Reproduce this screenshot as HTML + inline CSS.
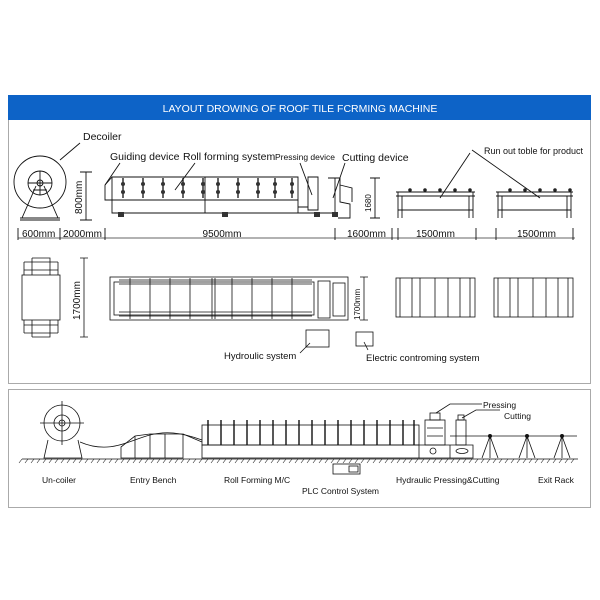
<!DOCTYPE html>
<html><head><meta charset="utf-8"><style>
html,body{margin:0;padding:0;background:#fff;}
svg{display:block;font-family:"Liberation Sans",sans-serif;}
</style></head><body>
<svg width="600" height="600" viewBox="0 0 600 600" xmlns="http://www.w3.org/2000/svg">
<rect width="600" height="600" fill="#fff"/>
<rect x="8.5" y="96.5" width="582" height="287" fill="none" stroke="#aaa" stroke-width="1"/>
<rect x="8.5" y="389.5" width="582" height="118" fill="none" stroke="#aaa" stroke-width="1"/>
<rect x="8" y="95" width="583" height="25" fill="#0d63c7"/>
<text x="300" y="112" fill="#fff" font-size="10.5" text-anchor="middle">LAYOUT DROWING OF ROOF TILE FCRMING MACHINE</text>

<g stroke="#111" fill="none" stroke-width="0.9">
<circle cx="40" cy="182" r="26"/>
<circle cx="40" cy="183" r="12"/>
<circle cx="40" cy="183" r="3"/>
<path d="M40 171V195M28 183H52"/>
<path d="M22 218L36 186M58 218L44 186M33 190H47"/>
<path d="M20 220H60M20 218H60"/>
<path d="M60 160L80 143"/>
<path d="M86 172V220M80 172H92M80 220H92"/>
<path d="M112 177H298V200H112Z"/>
<path d="M105 185L112 177M105 185V200H112"/>
<path d="M112 200V213H298V200M298 200V207H308"/>
<path d="M112 213H338"/>
<path d="M205 177V213"/>
<g stroke-width="1.3">
<path d="M123 178V198M143 178V198M163 178V198M183 178V198M203 178V198M218 178V198M238 178V198M258 178V198M275 178V198M292 178V198"/>
</g>
<g fill="#333" stroke="none">
<circle cx="123" cy="184" r="2"/><circle cx="123" cy="192" r="2"/>
<circle cx="143" cy="184" r="2"/><circle cx="143" cy="192" r="2"/>
<circle cx="163" cy="184" r="2"/><circle cx="163" cy="192" r="2"/>
<circle cx="183" cy="184" r="2"/><circle cx="183" cy="192" r="2"/>
<circle cx="203" cy="184" r="2"/><circle cx="203" cy="192" r="2"/>
<circle cx="218" cy="184" r="2"/><circle cx="218" cy="192" r="2"/>
<circle cx="238" cy="184" r="2"/><circle cx="238" cy="192" r="2"/>
<circle cx="258" cy="184" r="2"/><circle cx="258" cy="192" r="2"/>
<circle cx="275" cy="184" r="2"/><circle cx="275" cy="192" r="2"/>
<circle cx="292" cy="184" r="2"/><circle cx="292" cy="192" r="2"/>
<rect x="118" y="212" width="6" height="5"/><rect x="222" y="212" width="6" height="5"/><rect x="314" y="212" width="6" height="5"/><rect x="332" y="212" width="6" height="5"/>
</g>
<path d="M308 177H318V210H308Z"/>
<path d="M328 178H340V202L350 204V218H338"/>
<path d="M340 185L352 188V202"/>
<path d="M335 178V212"/>
<path d="M375 178V218M370 178H380M370 218H380"/>
<path d="M105 185L120 163M175 190L195 163M312 195L300 163M333 198L345 163"/>
<path d="M396 192H475M396 196H475M398 192V218M402 196V218M473 192V218M469 196V218M398 210H473"/>
<path d="M496 192H573M496 196H573M498 192V218M502 196V218M571 192V218M567 196V218M498 210H571"/>
<path d="M440 198L470 153M540 198L472 150"/>
<path d="M18 238H575" stroke="#666"/>
<path d="M18 228V240M60 228V240M105 228V240M335 228V240M392 228V240M398 228V240M476 228V240M496 228V240M573 228V240"/>
</g>
<g fill="#222" stroke="none">
<circle cx="410" cy="190" r="1.8"/><circle cx="425" cy="190" r="1.8"/><circle cx="440" cy="190" r="1.8"/><circle cx="455" cy="190" r="1.8"/><circle cx="470" cy="190" r="1.8"/>
<circle cx="510" cy="190" r="1.8"/><circle cx="525" cy="190" r="1.8"/><circle cx="540" cy="190" r="1.8"/><circle cx="555" cy="190" r="1.8"/><circle cx="570" cy="190" r="1.8"/>
</g>
<g font-size="10.5" fill="#111">
<text x="83" y="140">Decoiler</text>
<text x="110" y="160">Guiding device</text>
<text x="183" y="160">Roll forming system</text>
<text x="275" y="160" font-size="8.5">Pressing device</text>
<text x="342" y="161">Cutting device</text>
<text x="484" y="154" font-size="9">Run out toble for product</text>
<text x="22" y="237" font-size="10">600mm</text>
<text x="63" y="237" font-size="10">2000mm</text>
<text x="222" y="237" font-size="10" text-anchor="middle">9500mm</text>
<text x="347" y="237" font-size="10">1600mm</text>
<text x="416" y="237" font-size="10">1500mm</text>
<text x="517" y="237" font-size="10">1500mm</text>
<text transform="translate(82,214) rotate(-90)" font-size="10">800mm</text>
<text transform="translate(371,212) rotate(-90)" font-size="8">1680</text>
<text transform="translate(80,320) rotate(-90)" font-size="10">1700mm</text>
<text transform="translate(360,320) rotate(-90)" font-size="8">1700mm</text>
<text x="224" y="359" font-size="9.5">Hydroulic system</text>
<text x="366" y="361" font-size="9.5">Electric controming system</text>
</g>

<g stroke="#111" fill="none" stroke-width="0.8">
<rect x="22" y="275" width="38" height="45"/>
<path d="M24 262H58M24 270H58M32 258H50V275M32 258V275M24 262V275M58 262V275"/>
<path d="M24 333H58M24 325H58M32 337H50V320M32 337V320M24 333V320M58 333V320"/>
<path d="M84 258V337M80 258H88M80 337H88"/>
<rect x="110" y="277" width="238" height="43"/>
<rect x="114" y="282" width="200" height="33"/>
<path d="M119 280H312M119 284H312M119 312H312M119 316H312"/>
<path d="M130 278V319M150 278V319M170 278V319M190 278V319M212 278V319M215 278V319M232 278V319M252 278V319M272 278V319M292 278V319"/>
<rect x="318" y="281" width="12" height="37"/>
<rect x="333" y="283" width="12" height="33"/>
<path d="M364 277V320M360 277H368M360 320H368"/>
<rect x="396" y="278" width="79" height="39"/>
<path d="M400 278V317M412 278V317M420 278V317M435 278V317M448 278V317M460 278V317M470 278V317"/>
<rect x="494" y="278" width="79" height="39"/>
<path d="M498 278V317M510 278V317M518 278V317M533 278V317M546 278V317M558 278V317M568 278V317"/>
<rect x="306" y="330" width="23" height="17"/>
<path d="M310 343L300 353"/>
<rect x="356" y="332" width="17" height="14"/>
<path d="M364 342L368 350"/>
</g>

<g stroke="#111" fill="none" stroke-width="0.8">
<circle cx="62" cy="423" r="18"/><circle cx="62" cy="423" r="8"/><circle cx="62" cy="423" r="3"/>
<path d="M40 423H84M62 401V445"/>
<path d="M48 440L44 458H82L78 440"/>
<path d="M80 442C110 455 130 440 150 435 C165 431 180 432 202 440"/>
<path d="M121 458V447L135 436L150 434L183 434V458Z"/>
<path d="M135 436V458M150 434V458M165 434V458"/>
<path d="M183 434L202 442"/>
<rect x="202" y="445" width="217" height="13"/>
<rect x="202" y="425" width="217" height="20"/>
<path d="M419 445H473V458H419"/><path d="M450 445V458"/>
<circle cx="433" cy="451" r="3"/><ellipse cx="462" cy="451" rx="6" ry="2.5"/>
<rect x="425" y="420" width="20" height="25"/><rect x="430" y="413" width="10" height="7"/>
<path d="M427 428H443M427 436H443"/>
<rect x="456" y="420" width="10" height="25"/><rect x="458" y="415" width="6" height="5"/>
<path d="M450 436H577"/>
<path d="M436 413L450 404H482M462 418L476 410H500"/>
<path d="M490 436L482 458M490 436L498 458M490 436V458M527 436L519 458M527 436L535 458M527 436V458M562 436L554 458M562 436L570 458M562 436V458"/>
<path d="M22 459H578"/>
<rect x="333" y="464" width="27" height="10"/><rect x="349" y="466" width="9" height="6"/>
</g>
<g stroke="#222" stroke-width="0.6">
<path d="M22 459l-3 4M28 459l-3 4M34 459l-3 4M40 459l-3 4M46 459l-3 4M52 459l-3 4M58 459l-3 4M64 459l-3 4M70 459l-3 4M76 459l-3 4M82 459l-3 4M88 459l-3 4M94 459l-3 4M100 459l-3 4M106 459l-3 4M112 459l-3 4M118 459l-3 4M124 459l-3 4M130 459l-3 4M136 459l-3 4M142 459l-3 4M148 459l-3 4M154 459l-3 4M160 459l-3 4M166 459l-3 4M172 459l-3 4M178 459l-3 4M184 459l-3 4M190 459l-3 4M196 459l-3 4M202 459l-3 4M208 459l-3 4M214 459l-3 4M220 459l-3 4M226 459l-3 4M232 459l-3 4M238 459l-3 4M244 459l-3 4M250 459l-3 4M256 459l-3 4M262 459l-3 4M268 459l-3 4M274 459l-3 4M280 459l-3 4M286 459l-3 4M292 459l-3 4M298 459l-3 4M304 459l-3 4M310 459l-3 4M316 459l-3 4M322 459l-3 4M328 459l-3 4M334 459l-3 4M340 459l-3 4M346 459l-3 4M352 459l-3 4M358 459l-3 4M364 459l-3 4M370 459l-3 4M376 459l-3 4M382 459l-3 4M388 459l-3 4M394 459l-3 4M400 459l-3 4M406 459l-3 4M412 459l-3 4M418 459l-3 4M424 459l-3 4M430 459l-3 4M436 459l-3 4M442 459l-3 4M448 459l-3 4M454 459l-3 4M460 459l-3 4M466 459l-3 4M472 459l-3 4M478 459l-3 4M484 459l-3 4M490 459l-3 4M496 459l-3 4M502 459l-3 4M508 459l-3 4M514 459l-3 4M520 459l-3 4M526 459l-3 4M532 459l-3 4M538 459l-3 4M544 459l-3 4M550 459l-3 4M556 459l-3 4M562 459l-3 4M568 459l-3 4M574 459l-3 4"/>
</g>
<g stroke="#111" stroke-width="1.4">
<path d="M208 420V445M221 420V445M234 420V445M247 420V445M260 420V445M273 420V445M286 420V445M299 420V445M312 420V445M325 420V445M338 420V445M351 420V445M364 420V445M377 420V445M390 420V445M403 420V445M414 420V445"/>
</g>
<g fill="#111" stroke="none">
<circle cx="490" cy="436" r="2"/><circle cx="527" cy="436" r="2"/><circle cx="562" cy="436" r="2"/>
</g>
<g font-size="8.5" fill="#111">
<text x="42" y="483">Un-coiler</text>
<text x="130" y="483">Entry Bench</text>
<text x="224" y="483">Roll Forming M/C</text>
<text x="302" y="494">PLC Control System</text>
<text x="396" y="483">Hydraulic Pressing&amp;Cutting</text>
<text x="538" y="483">Exit Rack</text>
<text x="483" y="408">Pressing</text>
<text x="504" y="419">Cutting</text>
</g>
</svg>
</body></html>
